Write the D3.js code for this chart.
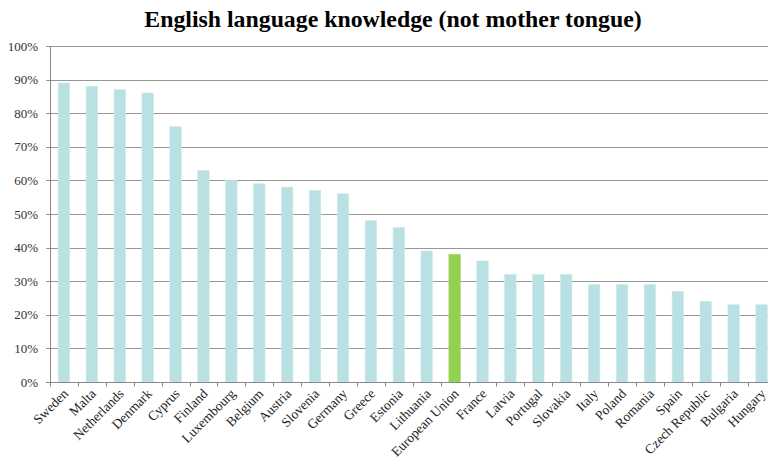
<!DOCTYPE html>
<html>
<head>
<meta charset="utf-8">
<script src="https://cdn.jsdelivr.net/npm/d3@7"></script>
<style>
  body { margin: 0; background: #fff; }
  svg { display: block; font-family: "Liberation Serif", "Times New Roman", serif; }
</style>
</head>
<body>
<svg id="chart" width="768" height="464"></svg>
<script>
const countries = ["Sweden", "Malta", "Netherlands", "Denmark", "Cyprus", "Finland", "Luxembourg",
    "Belgium", "Austria", "Slovenia", "Germany", "Greece", "Estonia", "Lithuania", "European Union",
    "France", "Latvia", "Portugal", "Slovakia", "Italy", "Poland", "Romania", "Spain",
    "Czech Republic", "Bulgaria", "Hungary"]
const englishShare = [89, 88, 87, 86, 76, 63, 60, 59, 58, 57, 56, 48, 46, 39, 38,
    36, 32, 32, 32, 29, 29, 29, 27, 24, 23, 23]
const yTicks = [0, 10, 20, 30, 40, 50, 60, 70, 80, 90, 100]
const highlight = "European Union"

const margin = { top: 46, left: 50, bottom: 82 }
const plotRight = 775.5
const height = 464

const data = countries.map((c, i) => ({ country: c, value: englishShare[i] }))

const svg = d3.select("#chart")

const x = d3.scaleBand()
    .domain(countries)
    .range([margin.left, plotRight])
    .paddingInner(0.59)
    .paddingOuter(0.295)

const y = d3.scaleLinear()
    .domain([0, 100])
    .range([height - margin.bottom, margin.top])

// title
svg.append("text")
    .attr("x", 393)
    .attr("y", 27)
    .attr("text-anchor", "middle")
    .attr("font-size", 23.8)
    .attr("font-weight", "bold")
    .attr("fill", "#000")
    .text("English language knowledge (not mother tongue)")

// gridlines
svg.append("g")
    .selectAll("line")
    .data(yTicks.filter(d => d > 0))
    .join("line")
    .attr("x1", margin.left - 4)
    .attr("x2", plotRight)
    .attr("y1", d => Math.round(y(d)) + 0.5)
    .attr("y2", d => Math.round(y(d)) + 0.5)
    .attr("stroke", "#979797")
    .attr("stroke-width", 1)

// y labels
svg.append("g")
    .selectAll("text")
    .data(yTicks)
    .join("text")
    .attr("x", 38)
    .attr("y", d => y(d) + 4.5)
    .attr("text-anchor", "end")
    .attr("font-size", 13)
    .attr("fill", "#333")
    .text(d => d + "%")

// bars
svg.append("g")
    .selectAll("rect")
    .data(data)
    .join("rect")
    .attr("x", d => x(d.country))
    .attr("y", d => y(d.value))
    .attr("width", x.bandwidth())
    .attr("height", d => y(0) - y(d.value))
    .attr("fill", d => d.country === highlight ? "#92d050" : "#b9e0e3")
    .attr("stroke", d => d.country === highlight ? "#a2da66" : "#cbe9eb")
    .attr("stroke-width", 0.6)

// axes
const step = x.step()
const boundaries = d3.range(countries.length + 1).map(i => margin.left + i * step)
const baseY = Math.round(y(0)) + 0.5

svg.append("line")
    .attr("x1", margin.left + 0.5).attr("x2", margin.left + 0.5)
    .attr("y1", y(100)).attr("y2", baseY)
    .attr("stroke", "#888")
svg.append("line")
    .attr("x1", margin.left - 4).attr("x2", plotRight)
    .attr("y1", baseY).attr("y2", baseY)
    .attr("stroke", "#888")
svg.append("g")
    .selectAll("line")
    .data(boundaries)
    .join("line")
    .attr("x1", d => Math.round(d) + 0.5)
    .attr("x2", d => Math.round(d) + 0.5)
    .attr("y1", baseY)
    .attr("y2", baseY + 4)
    .attr("stroke", "#888")

// x labels, rotated
svg.append("g")
    .selectAll("text")
    .data(countries)
    .join("text")
    .attr("text-anchor", "end")
    .attr("font-size", 13.5)
    .attr("fill", "#222")
    .attr("transform", d => `translate(${x(d) + x.bandwidth() / 2 + 5},${baseY + 12}) rotate(-45)`)
    .text(d => d)
</script>
</body>
</html>
